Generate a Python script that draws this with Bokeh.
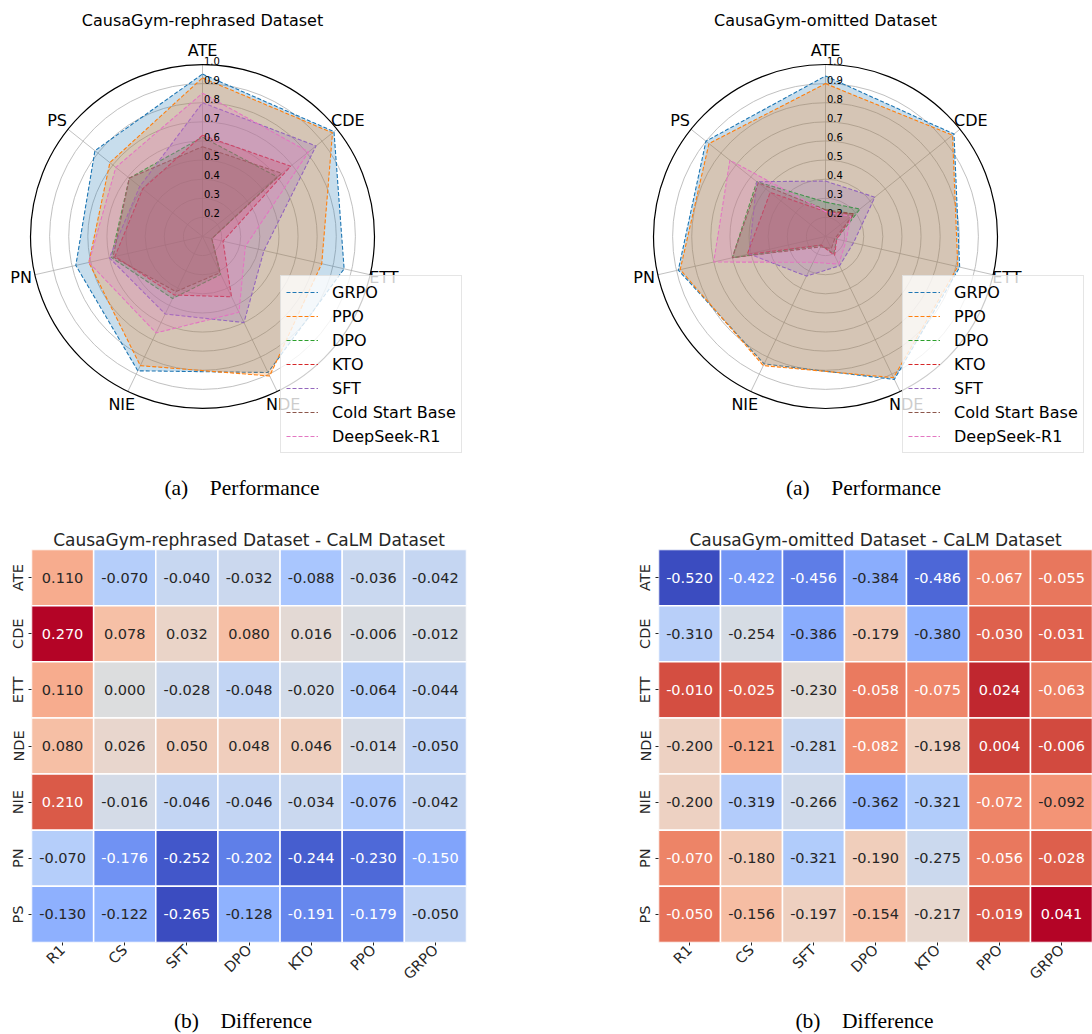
import math
from bokeh.plotting import figure
from bokeh.layouts import column, row
from bokeh.models import Range1d, FactorRange, ColumnDataSource, Legend, LegendItem, Title
from bokeh.core.properties import value
from bokeh.embed import file_html
from bokeh.resources import INLINE

# ---------------- data ----------------
metrics = ["ATE", "CDE", "ETT", "NDE", "NIE", "PN", "PS"]
series = ["GRPO", "PPO", "DPO", "KTO", "SFT", "Cold Start Base", "DeepSeek-R1"]
radar_ticks = [0.2, 0.3, 0.4, 0.5, 0.6, 0.7, 0.8, 0.9, 1.0]
radar_tick_labels = ["0.2", "0.3", "0.4", "0.5", "0.6", "0.7", "0.8", "0.9", "1.0"]

# CausaGym-rephrased (ATE, CDE, ETT, NDE, NIE, PN, PS)
reph_grpo = [0.95, 0.98, 0.86, 0.89, 0.88, 0.78, 0.82]
reph_ppo = [0.93, 0.97, 0.74, 0.91, 0.85, 0.71, 0.72]
reph_dpo = [0.62, 0.60, 0.15, 0.32, 0.46, 0.59, 0.59]
reph_kto = [0.63, 0.69, 0.21, 0.45, 0.44, 0.57, 0.50]
reph_sft = [0.80, 0.86, 0.43, 0.60, 0.55, 0.60, 0.52]
reph_cold = [0.57, 0.63, 0.15, 0.31, 0.42, 0.58, 0.59]
reph_r1 = [0.85, 0.81, 0.33, 0.54, 0.66, 0.71, 0.68]

# CausaGym-omitted
omit_grpo = [0.94, 0.96, 0.82, 0.93, 0.84, 0.89, 0.90]
omit_ppo = [0.90, 0.95, 0.81, 0.92, 0.85, 0.88, 0.88]
omit_dpo = [0.28, 0.33, 0.16, 0.20, 0.15, 0.60, 0.56]
omit_kto = [0.23, 0.29, 0.16, 0.21, 0.15, 0.52, 0.47]
omit_sft = [0.39, 0.43, 0.25, 0.27, 0.33, 0.51, 0.56]
omit_cold = [0.24, 0.29, 0.15, 0.17, 0.16, 0.60, 0.55]
omit_r1 = [0.23, 0.27, 0.21, 0.26, 0.25, 0.70, 0.74]

# Difference heatmaps: rows = metrics, columns = models
models = ["R1", "CS", "SFT", "DPO", "KTO", "PPO", "GRPO"]
diff_rephrased = [
    [0.110, -0.070, -0.040, -0.032, -0.088, -0.036, -0.042],
    [0.270, 0.078, 0.032, 0.080, 0.016, -0.006, -0.012],
    [0.110, 0.000, -0.028, -0.048, -0.020, -0.064, -0.044],
    [0.080, 0.026, 0.050, 0.048, 0.046, -0.014, -0.050],
    [0.210, -0.016, -0.046, -0.046, -0.034, -0.076, -0.042],
    [-0.070, -0.176, -0.252, -0.202, -0.244, -0.230, -0.150],
    [-0.130, -0.122, -0.265, -0.128, -0.191, -0.179, -0.050],
]
diff_omitted = [
    [-0.520, -0.422, -0.456, -0.384, -0.486, -0.067, -0.055],
    [-0.310, -0.254, -0.386, -0.179, -0.380, -0.030, -0.031],
    [-0.010, -0.025, -0.230, -0.058, -0.075, 0.024, -0.063],
    [-0.200, -0.121, -0.281, -0.082, -0.198, 0.004, -0.006],
    [-0.200, -0.319, -0.266, -0.362, -0.321, -0.072, -0.092],
    [-0.070, -0.180, -0.321, -0.190, -0.275, -0.056, -0.028],
    [-0.050, -0.156, -0.197, -0.154, -0.217, -0.019, 0.041],
]

# ---------------- styles ----------------
colors = ["#1f77b4", "#ff7f0e", "#2ca02c", "#d62728", "#9467bd", "#8c564b", "#e377c2"]
FONT = "DejaVu Sans"
SERIF = "Liberation Serif"
R_PX = 172.0
R_MIN, R_MAX = 0.1, 1.0
TOP_H = 508


def rad(v):
    return (v - R_MIN) / (R_MAX - R_MIN) * R_PX


# ---------------- coolwarm (Moreland diverging, Msh space) ----------------
WHITE = (0.95047, 1.0, 1.08883)


def _lin(c):
    return c / 12.92 if c <= 0.04045 else ((c + 0.055) / 1.055) ** 2.4


def _delin(c):
    c = max(0.0, min(1.0, c))
    return 12.92 * c if c <= 0.0031308 else 1.055 * c ** (1 / 2.4) - 0.055


def rgb_to_lab(rgb):
    r, g, b = [_lin(c) for c in rgb]
    X = 0.4124 * r + 0.3576 * g + 0.1805 * b
    Y = 0.2126 * r + 0.7152 * g + 0.0722 * b
    Z = 0.0193 * r + 0.1192 * g + 0.9505 * b

    def f(t):
        return t ** (1 / 3) if t > 0.008856 else 7.787 * t + 16 / 116

    fx, fy, fz = f(X / WHITE[0]), f(Y / WHITE[1]), f(Z / WHITE[2])
    return (116 * fy - 16, 500 * (fx - fy), 200 * (fy - fz))


def lab_to_rgb(lab):
    L, a, b = lab
    fy = (L + 16) / 116
    fx = fy + a / 500
    fz = fy - b / 200

    def finv(t):
        return t ** 3 if t ** 3 > 0.008856 else (t - 16 / 116) / 7.787

    X, Y, Z = WHITE[0] * finv(fx), WHITE[1] * finv(fy), WHITE[2] * finv(fz)
    r = 3.2406 * X - 1.5372 * Y - 0.4986 * Z
    g = -0.9689 * X + 1.8758 * Y + 0.0415 * Z
    bb = 0.0557 * X - 0.2040 * Y + 1.0570 * Z
    return tuple(_delin(c) for c in (r, g, bb))


def lab_to_msh(lab):
    L, a, b = lab
    M = math.sqrt(L * L + a * a + b * b)
    s = math.acos(L / M) if M > 0 else 0.0
    h = math.atan2(b, a)
    return (M, s, h)


def msh_to_lab(msh):
    M, s, h = msh
    return (M * math.cos(s), M * math.sin(s) * math.cos(h), M * math.sin(s) * math.sin(h))


def adjust_hue(msh, m_unsat):
    M, s, h = msh
    if M >= m_unsat:
        return h
    spin = s * math.sqrt(m_unsat ** 2 - M ** 2) / (M * math.sin(s))
    return h + spin if h > -math.pi / 3 else h - spin


CW_LOW = (0.2298057, 0.298717966, 0.753683153)
CW_HIGH = (0.705673158, 0.01555616, 0.150232812)


def coolwarm(x):
    M1, s1, h1 = lab_to_msh(rgb_to_lab(CW_LOW))
    M2, s2, h2 = lab_to_msh(rgb_to_lab(CW_HIGH))
    mmid = max(M1, M2, 88.0)
    if x < 0.5:
        M2, s2, h2 = mmid, 0.0, 0.0
        x = 2 * x
    else:
        M1, s1, h1 = mmid, 0.0, 0.0
        x = 2 * x - 1
    if s1 < 0.05 and s2 > 0.05:
        h1 = adjust_hue((M2, s2, h2), M1)
    elif s2 < 0.05 and s1 > 0.05:
        h2 = adjust_hue((M1, s1, h1), M2)
    msh = ((1 - x) * M1 + x * M2, (1 - x) * s1 + x * s2, (1 - x) * h1 + x * h2)
    return lab_to_rgb(msh_to_lab(msh))


def to_hex(rgb):
    return "#%02x%02x%02x" % tuple(int(round(c * 255)) for c in rgb)


def luminance(rgb):
    r, g, b = [_lin(c) for c in rgb]
    return 0.2126 * r + 0.7152 * g + 0.0722 * b


# ---------------- radar ----------------
def radar(title, vals_list, page_x0, width, page_cx, caption, caption_cx, legend_x):
    H = TOP_H
    cx = page_cx - page_x0
    cy = 236
    p = figure(width=width, height=H, x_range=Range1d(-cx, width - cx),
               y_range=Range1d(-(H - cy), cy), toolbar_location=None,
               output_backend="svg", min_border=0, x_axis_location=None,
               y_axis_location=None, title=None, outline_line_color=None)
    p.grid.visible = False
    n = len(metrics)
    ang = [math.pi / 2 - 2 * math.pi * k / n for k in range(n)]
    rings = radar_ticks[:-1]
    p.circle(x=[0] * len(rings), y=[0] * len(rings), radius=[rad(t) for t in rings],
             fill_color=None, line_color="#b0b0b0", line_width=0.8)
    p.segment(x0=[0] * n, y0=[0] * n,
              x1=[rad(R_MAX) * math.cos(a) for a in ang],
              y1=[rad(R_MAX) * math.sin(a) for a in ang],
              line_color="#b0b0b0", line_width=0.8)
    p.circle(x=[0], y=[0], radius=[rad(R_MAX)], fill_color=None,
             line_color="black", line_width=1.2)
    items = []
    for name, vals, col in zip(series, vals_list, colors):
        xs = [rad(v) * math.cos(a) for v, a in zip(vals, ang)]
        ys = [rad(v) * math.sin(a) for v, a in zip(vals, ang)]
        ln = p.line(xs + xs[:1], ys + ys[:1], line_color=col, line_width=1.1,
                    line_dash="4 2")
        p.patch(xs, ys, fill_color=col, fill_alpha=0.25, line_color=None)
        items.append(LegendItem(label=name, renderers=[ln]))
    p.text(x=[1.5] * len(radar_ticks), y=[rad(t) for t in radar_ticks],
           text=radar_tick_labels, text_font=value(FONT), text_font_size="10px",
           text_align="left", text_baseline="bottom", text_color="black")
    LR = 186
    p.text(x=[LR * math.cos(a) for a in ang], y=[LR * math.sin(a) for a in ang],
           text=metrics, text_font=value(FONT), text_font_size="16px",
           text_align="center", text_baseline="middle", text_color="black")
    p.text(x=[0], y=[cy - 20], text=[title], text_font=value(FONT),
           text_font_size="16px", text_align="center", text_baseline="middle",
           text_color="black")
    p.text(x=[caption_cx - page_cx], y=[cy - 487], text=[caption],
           text_font=value(SERIF), text_font_size="21.5px", text_align="center",
           text_baseline="middle", text_color="black")
    legend = Legend(items=items, location=(legend_x - page_x0, H - 453),
                    label_text_font=FONT, label_text_font_size="16px",
                    label_text_color="black", glyph_width=32, glyph_height=22,
                    label_height=22, label_standoff=14, spacing=2, padding=5,
                    margin=0, border_line_color="#cccccc", border_line_width=1,
                    background_fill_color="white", background_fill_alpha=0.8)
    p.add_layout(legend)
    return p


# ---------------- heatmap ----------------
def heatmap(title, mat, width, border_left, border_right):
    flat = [v for r in mat for v in r]
    vmin, vmax = min(flat), max(flat)
    xs, ys, fills, tcols, labels = [], [], [], [], []
    for metric, rowv in zip(metrics, mat):
        for model, v in zip(models, rowv):
            rgb = coolwarm((v - vmin) / (vmax - vmin))
            xs.append(model)
            ys.append(metric)
            fills.append(to_hex(rgb))
            tcols.append("#262626" if luminance(rgb) > 0.408 else "#ffffff")
            labels.append("%.3f" % v)
    src = ColumnDataSource(dict(model=xs, metric=ys, fill=fills, tcol=tcols, label=labels))
    t = Title(text=title, align="center", text_font=FONT, text_font_size="17px",
              text_font_style="normal", text_color="#262626", standoff=0)
    p = figure(width=width, height=492, x_range=FactorRange(factors=models),
               y_range=FactorRange(factors=metrics[::-1]), toolbar_location=None,
               output_backend="svg", min_border_left=border_left,
               min_border_right=border_right, min_border_top=41,
               min_border_bottom=58, title=t, outline_line_color=None)
    p.rect(x="model", y="metric", width=1, height=1, source=src, fill_color="fill",
           line_color="white", line_width=1.5)
    p.text(x="model", y="metric", text="label", source=src, text_color="tcol",
           text_font=value(FONT), text_font_size="14.5px", text_align="center",
           text_baseline="middle")
    p.grid.visible = False
    p.axis.axis_line_color = None
    p.axis.major_tick_line_color = "#262626"
    p.axis.major_tick_out = 3
    p.axis.major_tick_in = 0
    p.axis.minor_tick_line_color = None
    p.axis.major_label_text_font = FONT
    p.axis.major_label_text_font_size = "14.5px"
    p.axis.major_label_text_color = "#262626"
    p.axis.major_label_standoff = 2
    p.xaxis.major_label_orientation = math.pi / 4
    p.yaxis.major_label_orientation = "vertical"
    return p


def caption_fig(text, page_x0, width, page_cx, height, page_y0, page_cy):
    p = figure(width=width, height=height, x_range=Range1d(page_x0, page_x0 + width),
               y_range=Range1d(0, height), toolbar_location=None, output_backend="svg",
               min_border=0, x_axis_location=None, y_axis_location=None,
               title=None, outline_line_color=None)
    p.grid.visible = False
    p.text(x=[page_cx], y=[page_y0 + height - page_cy], text=[text],
           text_font=value(SERIF), text_font_size="21.5px", text_align="center",
           text_baseline="middle", text_color="black")
    return p


reph_vals = [reph_grpo, reph_ppo, reph_dpo, reph_kto, reph_sft, reph_cold, reph_r1]
omit_vals = [omit_grpo, omit_ppo, omit_dpo, omit_kto, omit_sft, omit_cold, omit_r1]

r_left = radar("CausaGym-rephrased Dataset", reph_vals, 0, 546, 202,
               "(a)\u2003Performance", 241.5, 280)
r_right = radar("CausaGym-omitted Dataset", omit_vals, 546, 546, 825,
                "(a)\u2003Performance", 863, 902)
h_left = heatmap("CausaGym-rephrased Dataset - CaLM Dataset", diff_rephrased, 546, 31, 80)
h_right = heatmap("CausaGym-omitted Dataset - CaLM Dataset", diff_omitted, 546, 112, 0)
c_left = caption_fig("(b)\u2003Difference", 0, 546, 242.5, 34, 1000, 1020.5)
c_right = caption_fig("(b)\u2003Difference", 546, 546, 864, 34, 1000, 1020.5)

layout = column(row(r_left, r_right, spacing=0),
                row(h_left, h_right, spacing=0),
                row(c_left, c_right, spacing=0), spacing=0)

open("out.html", "w").write(file_html(layout, INLINE))
